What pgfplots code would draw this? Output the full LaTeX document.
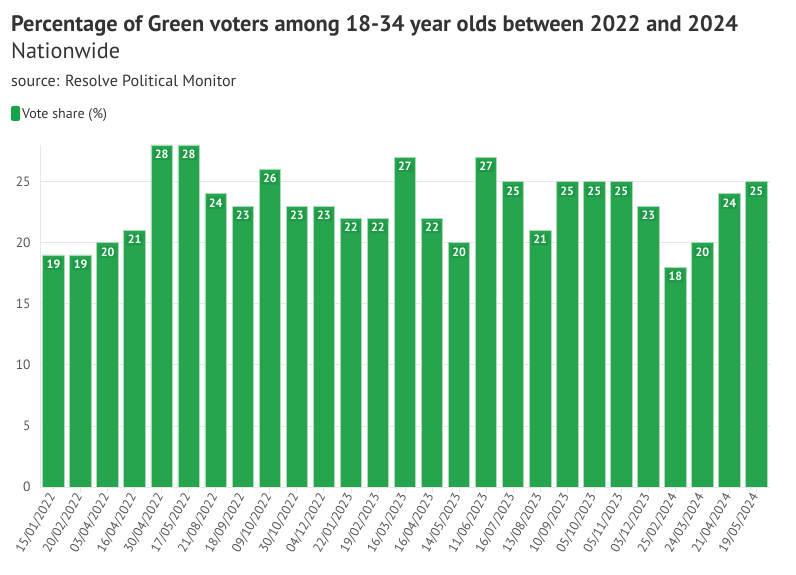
\documentclass[border=0pt]{standalone}
\usepackage{pgfplots}
\pgfplotsset{compat=1.18}
\usepackage{fontspec}
\setmainfont{PT Sans}
\definecolor{bargreen}{HTML}{26A44E}
\definecolor{boxgreen}{HTML}{1E9A47}
\definecolor{legendgreen}{HTML}{18A24A}
\definecolor{textgray}{HTML}{333333}
\definecolor{tickgray}{HTML}{555555}
\definecolor{gridgray}{HTML}{E6E6E6}
\begin{document}
\begin{tikzpicture}[x=1pt,y=1pt]
\useasboundingbox (-40,-88) rectangle (756,487);
\node[anchor=base west, text=textgray, inner sep=0pt, font=\fontsize{22.4}{26}\selectfont\bfseries] at (-29,455) {Percentage of Green voters among 18-34 year olds between 2022 and 2024};
\node[anchor=base west, text=textgray, inner sep=0pt, font=\fontsize{22.2}{26}\selectfont] at (-29,428) {Nationwide};
\node[anchor=base west, text=textgray, inner sep=0pt, font=\fontsize{16.1}{19}\selectfont] at (-29,400) {source: Resolve Political Monitor};
\fill[legendgreen, rounded corners=2pt] (-29,366) rectangle (-20,381);
\node[anchor=base west, text=textgray, inner sep=0pt, font=\fontsize{14}{16}\selectfont] at (-18,368) {Vote share (\%)};
\begin{axis}[
  at={(0,0)}, anchor=south west,
  width=730pt, height=342pt, scale only axis,
  xmin=-0.5, xmax=26.5, ymin=0, ymax=28,
  ybar, bar width=21.5pt,
  axis line style={draw=gridgray},
  axis x line*=bottom, axis y line*=left,
  ymajorgrids, grid style={draw=gridgray, line width=0.8pt},
  ytick={0,5,10,15,20,25},
  xtick={0,...,26},
  xticklabels={15/01/2022,20/02/2022,03/04/2022,16/04/2022,30/04/2022,17/05/2022,21/08/2022,18/09/2022,09/10/2022,30/10/2022,04/12/2022,22/01/2023,19/02/2023,16/03/2023,16/04/2023,14/05/2023,11/06/2023,16/07/2023,13/08/2023,10/09/2023,05/10/2023,05/11/2023,03/12/2023,25/02/2024,24/03/2024,21/04/2024,19/05/2024},
  x tick label style={rotate=60, anchor=east, font=\fontsize{13}{15}\selectfont, text=tickgray, inner sep=2pt},
  y tick label style={font=\fontsize{13.5}{15}\selectfont, text=tickgray},
  /pgf/number format/assume math mode=true,
  major tick length=6pt,
  xtick style={draw=gridgray, line width=0.8pt},
  ytick style={draw=none},
  tick align=outside,
  xtick pos=bottom,
  nodes near coords,
  every node near coord/.append style={anchor=north, yshift=-3pt, font=\fontsize{12}{14}\selectfont\bfseries, text=white, fill=boxgreen, inner sep=1.5pt, rounded corners=1pt},
]
\addplot[fill=bargreen, draw=white!60!bargreen, line width=0.8pt] coordinates {
(0,19) (1,19) (2,20) (3,21) (4,28) (5,28) (6,24) (7,23) (8,26) (9,23) (10,23) (11,22) (12,22) (13,27) (14,22) (15,20) (16,27) (17,25) (18,21) (19,25) (20,25) (21,25) (22,23) (23,18) (24,20) (25,24) (26,25)
};
\end{axis}
\end{tikzpicture}
\end{document}
